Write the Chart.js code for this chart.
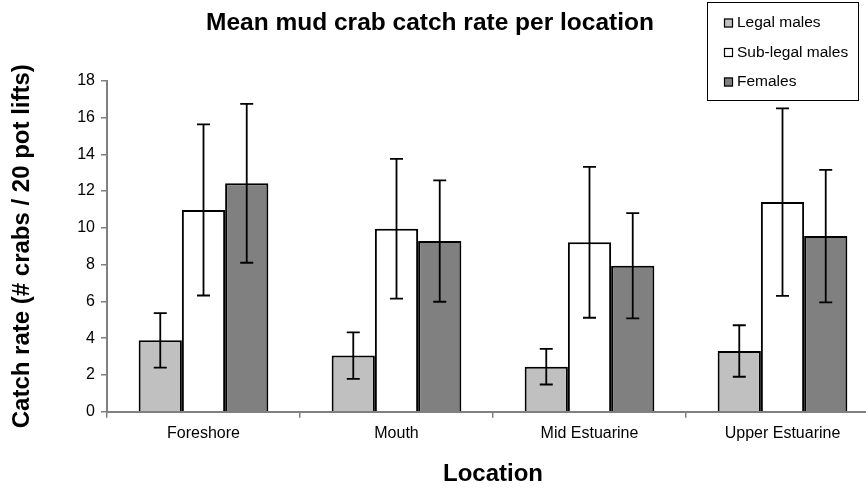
<!DOCTYPE html>
<html>
<head>
<meta charset="utf-8">
<script src="https://cdn.jsdelivr.net/npm/chart.js@4/dist/chart.umd.min.js"></script>
<style>
html,body{margin:0;padding:0;background:#fff;overflow:hidden;width:866px;height:493px;}
#wrap{position:absolute;left:0;top:0;width:880px;height:493px;}
</style>
</head>
<body>
<div id="wrap"><canvas id="c" width="880" height="493"></canvas></div>
<script>
// ---- data ----
const categories = ['Foreshore', 'Mouth', 'Mid Estuarine', 'Upper Estuarine'];
const seriesNames = ['Legal males', 'Sub-legal males', 'Females'];
const legalMales = [3.88, 3.05, 2.45, 3.30];
const legalMalesErr = [1.48, 1.26, 0.97, 1.40];
const subLegalMales = [10.97, 9.95, 9.21, 11.40];
const subLegalMalesErr = [4.65, 3.80, 4.10, 5.10];
const females = [12.42, 9.28, 7.94, 9.55];
const femalesErr = [4.32, 3.30, 2.86, 3.60];
const yTicks = [0, 2, 4, 6, 8, 10, 12, 14, 16, 18];
const chartTitle = 'Mean mud crab catch rate per location';
const xTitle = 'Location';
const yTitle = 'Catch rate (# crabs / 20 pot lifts)';

const FONT = "'Liberation Sans', Arial, Helvetica, sans-serif";
const errors = [legalMalesErr, subLegalMalesErr, femalesErr];

const errorBars = {
  id: 'errorBars',
  afterDatasetsDraw(chart) {
    const ctx = chart.ctx;
    const ys = chart.scales.y;
    ctx.save();
    ctx.strokeStyle = '#000';
    ctx.lineWidth = 1.8;
    chart.data.datasets.forEach((ds, di) => {
      const meta = chart.getDatasetMeta(di);
      meta.data.forEach((bar, i) => {
        const v = ds.data[i], e = errors[di][i];
        const x = bar.x;
        const yt = ys.getPixelForValue(v + e);
        const yb = ys.getPixelForValue(v - e);
        const cw = 6.5;
        ctx.beginPath();
        ctx.moveTo(x, yt); ctx.lineTo(x, yb);
        ctx.moveTo(x - cw, yt); ctx.lineTo(x + cw, yt);
        ctx.moveTo(x - cw, yb); ctx.lineTo(x + cw, yb);
        ctx.stroke();
      });
    });
    ctx.restore();
  }
};

const titleLegend = {
  id: 'titleLegend',
  afterDraw(chart) {
    const ctx = chart.ctx;
    ctx.save();
    ctx.fillStyle = '#000';
    ctx.font = 'bold 24.5px ' + FONT;
    ctx.textAlign = 'center';
    ctx.textBaseline = 'middle';
    ctx.fillText(chartTitle, 430, 23);
    // legend box
    ctx.strokeStyle = '#000';
    ctx.lineWidth = 1;
    ctx.strokeRect(707.5, 2.5, 151, 98);
    const rows = [23, 52.5, 82];
    ctx.font = '15.5px ' + FONT;
    ctx.textAlign = 'left';
    chart.data.datasets.forEach((ds, i) => {
      ctx.fillStyle = ds.backgroundColor;
      ctx.fillRect(724, rows[i] - 4.5, 9, 9);
      ctx.strokeStyle = '#000';
      ctx.lineWidth = 1.2;
      ctx.strokeRect(724.5, rows[i] - 4, 8, 8);
      ctx.fillStyle = '#000';
      ctx.fillText(ds.label, 737, rows[i]);
    });
    ctx.restore();
  }
};

new Chart(document.getElementById('c'), {
  type: 'bar',
  data: {
    labels: categories,
    datasets: [
      { label: seriesNames[0], data: legalMales, backgroundColor: '#c0c0c0' },
      { label: seriesNames[1], data: subLegalMales, backgroundColor: '#ffffff' },
      { label: seriesNames[2], data: females, backgroundColor: '#808080' }
    ].map(d => Object.assign(d, { borderColor: '#000', borderWidth: 2, barPercentage: 1, categoryPercentage: 0.672 }))
  },
  options: {
    responsive: false,
    animation: false,
    layout: { padding: { top: 80.7, right: 1, left: 0, bottom: 0 } },
    plugins: { legend: { display: false }, title: { display: false }, tooltip: { enabled: false } },
    scales: {
      x: {
        grid: { display: true, drawOnChartArea: false, drawTicks: true, tickLength: 6, color: '#808080', lineWidth: 1.5, offset: true },
        border: { display: true, color: '#808080', width: 2 },
        ticks: { color: '#000', font: { family: FONT, size: 16 }, padding: 6, maxRotation: 0 },
        title: { display: true, text: xTitle, color: '#000', font: { family: FONT, size: 24, weight: 'bold' }, padding: { top: 4, bottom: 4 } },
        afterFit(s) { s.height = 81.3; }
      },
      y: {
        min: 0, max: 18,
        afterBuildTicks(s) { s.ticks = yTicks.map(v => ({ value: v })); },
        grid: { display: true, drawOnChartArea: false, drawTicks: true, tickLength: 6, color: '#808080', lineWidth: 1.5 },
        border: { display: true, color: '#808080', width: 2 },
        ticks: { color: '#000', font: { family: FONT, size: 16 }, padding: 6 },
        title: { display: true, text: yTitle, color: '#000', font: { family: FONT, size: 24, weight: 'bold' }, padding: { top: 8, bottom: 8 } },
        afterFit(s) { s.width = 107; }
      }
    }
  },
  plugins: [errorBars, titleLegend]
});
</script>
</body>
</html>
